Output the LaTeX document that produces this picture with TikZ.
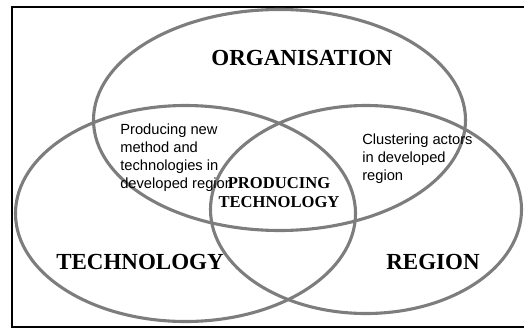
\documentclass[tikz,border=0pt]{standalone}
\usepackage{fontspec}
\setmainfont{Liberation Serif}
\setsansfont{Liberation Sans}
\usetikzlibrary{shapes.geometric,positioning}
\definecolor{venngray}{RGB}{125,125,125}
\tikzstyle{set} = [draw=venngray, line width=3.1pt, ellipse, inner sep=0pt]
\tikzstyle{title} = [font=\bfseries\fontsize{23}{27}\selectfont, inner sep=0pt]
\tikzstyle{core} = [font=\bfseries\fontsize{16.6}{19}\selectfont, align=center, inner sep=0pt]
\tikzstyle{note} = [font=\sffamily\fontsize{14.7}{18}\selectfont, align=left, inner sep=0pt, anchor=north west]

\begin{document}
\begin{tikzpicture}[
            x = 1pt, y = -1pt, % pixel-like units, y downwards
            semithick
        ]
        \useasboundingbox (0,0) rectangle (524,329);
        \clip (0,0) rectangle (524,329);

        % frame
        \draw[line width=1.3pt] (12,7) rectangle (532,327);

        % the three sets
        \node[set, minimum width=372pt, minimum height=221pt] (org) at (279.5,120) {};
        \node[set, minimum width=340pt, minimum height=216pt] (tech) at (185.5,213.5) {};
        \node[set, minimum width=311pt, minimum height=208pt] (reg) at (366,209.5) {};

        % labels
        \node[title] (orglabel) at (302,58) {ORGANISATION};
        \node[title] (techlabel) at (140,262) {TECHNOLOGY};
        \node[title] (reglabel) at (433,262) {REGION};
        \node[core] (prodtech) at (279,193) {PRODUCING\\TECHNOLOGY};

        \node[note] (orgtech) at (120,123.5) {Producing new\\method and\\technologies in\\developed region};
        \node[note] (orgreg) at (362,133.5) {Clustering actors\\in developed\\region};

    \end{tikzpicture}
\end{document}
